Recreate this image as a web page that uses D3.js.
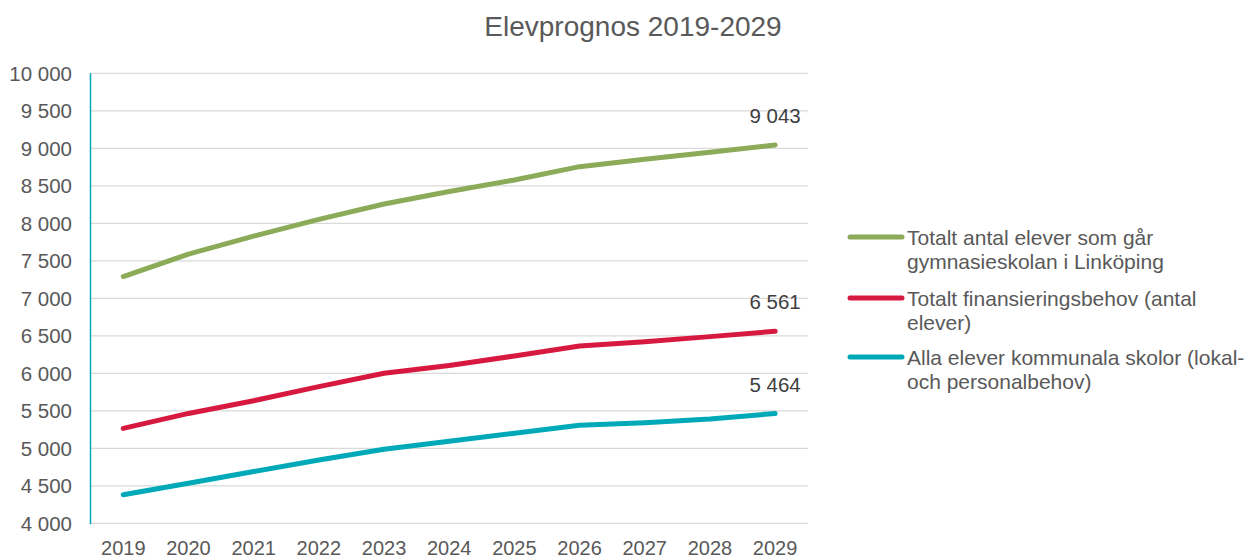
<!doctype html>
<html lang="sv">
<head>
<meta charset="utf-8">
<style>
  body { margin: 0; background: #fff; }
  text { font-family: "Liberation Sans", Arial, sans-serif; }
</style>
</head>
<body>
<div id="grafico"></div>
<script src="https://d3js.org/d3.v7.min.js"></script>
<script>

// data
var years = ["2019","2020","2021","2022","2023","2024","2025","2026","2027","2028","2029"];
var totalt = [7290, 7590, 7830, 8053, 8257, 8425, 8577, 8755, 8853, 8947, 9043];
var finansiering = [5265, 5465, 5635, 5822, 6000, 6105, 6231, 6364, 6422, 6489, 6561];
var kommunala = [4380, 4535, 4690, 4844, 4987, 5095, 5200, 5307, 5341, 5391, 5464];
var yTicks = [4000, 4500, 5000, 5500, 6000, 6500, 7000, 7500, 8000, 8500, 9000, 9500, 10000];
var names = ["Totalt antal elever som går|gymnasieskolan i Linköping", "Totalt finansieringsbehov (antal|elever)", "Alla elever kommunala skolor (lokal-|och personalbehov)"];
var colors = ["#8cab59", "#d7193f", "#00a9b8"];

var series = [totalt, finansiering, kommunala];
var fmt = function(v){ return d3.format(",")(v).replace(/,/g, " "); };

var svg = d3.select("#grafico").append("svg").attr("width", 1257).attr("height", 560);

var x = d3.scalePoint().domain(years).range([90.7, 807.7]).padding(0.5);
var y = d3.scaleLinear().domain([4000, 10000]).range([523.3, 73.3]);

// gridlines
svg.append("g").selectAll("line").data(yTicks).enter().append("line")
  .attr("x1", 90).attr("x2", 808)
  .attr("y1", function(d){ return y(d); }).attr("y2", function(d){ return y(d); })
  .attr("stroke", "#d9d9d9").attr("stroke-width", 1.3);

// y labels
svg.append("g").selectAll("text").data(yTicks).enter().append("text")
  .attr("x", 72).attr("y", function(d){ return y(d) + 7.5; })
  .attr("text-anchor", "end").attr("fill", "#595959").style("font-size", "20.5px")
  .text(fmt);

// left axis line
svg.append("line").attr("x1", 90.5).attr("x2", 90.5).attr("y1", y(10000)).attr("y2", y(4000) + 1)
  .attr("stroke", "#00a9b8").attr("stroke-width", 1.5);

// x labels
svg.append("g").selectAll("text").data(years).enter().append("text")
  .attr("x", function(d){ return x(d); }).attr("y", 555)
  .attr("text-anchor", "middle").attr("fill", "#595959").style("font-size", "20px")
  .text(function(d){ return d; });

// lines
var linea = d3.line().x(function(d,i){ return x(years[i]); }).y(function(d){ return y(d); });
svg.append("g").selectAll("path").data(series).enter().append("path")
  .attr("d", linea).attr("fill", "none")
  .attr("stroke", function(d,i){ return colors[i]; })
  .attr("stroke-width", 5).attr("stroke-linecap", "round").attr("stroke-linejoin", "round");

// end labels
svg.append("g").selectAll("text").data(series).enter().append("text")
  .attr("x", x("2029")).attr("y", function(d){ return y(d[d.length-1]) - 22; })
  .attr("text-anchor", "middle").attr("fill", "#404040").style("font-size", "20.5px")
  .text(function(d){ return fmt(d[d.length-1]); });

// title
svg.append("text").attr("x", 633).attr("y", 36).attr("text-anchor", "middle")
  .attr("fill", "#595959").style("font-size", "28px").text("Elevprognos 2019-2029");

// legend
var legY = [237, 298, 357];
var leg = svg.append("g").selectAll("g").data(names).enter().append("g")
  .attr("transform", function(d,i){ return "translate(0," + legY[i] + ")"; });
leg.append("line").attr("x1", 850).attr("x2", 902).attr("y1", 0).attr("y2", 0)
  .attr("stroke", function(d,i){ return colors[i]; }).attr("stroke-width", 5).attr("stroke-linecap", "round");
leg.each(function(d){
  var t = d3.select(this).append("text").attr("x", 907).attr("y", 7.5)
    .attr("fill", "#595959").style("font-size", "21px");
  d.split("|").forEach(function(s, k){
    t.append("tspan").attr("x", 907).attr("dy", k == 0 ? 0 : 24).text(s);
  });
});

</script>
</body>
</html>
